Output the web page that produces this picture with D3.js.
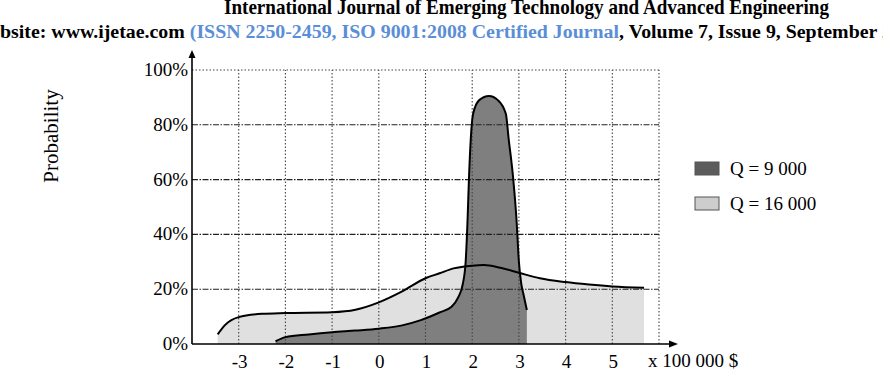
<!DOCTYPE html>
<html>
<head>
<meta charset="utf-8">
<script src="https://cdn.jsdelivr.net/npm/d3@7"></script>
<style>
  body { margin: 0; background: #fff; }
  svg { display: block; font-family: "Liberation Serif", "Times New Roman", serif; }
</style>
</head>
<body>
<div id="chart"></div>
<script>
// x in units of 100 000 $, y in percent
var lightX = [-3.45, -3.3, -3.0, -2.5, -2.0, -1.0, -0.5, 0.0, 0.5, 1.0, 1.3, 1.6, 2.0, 2.25, 2.6, 3.0, 3.45, 4.0, 4.5, 5.0, 5.68];
var lightY = [3.5, 6.8, 9.8, 11.0, 11.3, 11.6, 12.5, 15.2, 19.2, 24.0, 25.8, 27.6, 28.6, 28.8, 27.8, 26.0, 24.0, 22.6, 21.7, 21.0, 20.5];

var darkX = [-2.21, -2.0, -1.5, -1.0, -0.5, 0.0, 0.5, 0.9, 1.3, 1.55, 1.7, 1.8, 1.86, 1.9, 1.93, 1.97, 2.02, 2.15, 2.36, 2.55, 2.72, 2.78, 2.88, 2.95, 3.0, 3.05, 3.1, 3.17];
var darkY = [1.0, 2.5, 3.5, 4.3, 4.9, 5.6, 6.8, 8.7, 11.5, 13.5, 17, 22, 30, 45, 60, 75, 84, 89, 90.5, 89, 84, 75, 60, 45, 30, 22, 18, 12.4];

var xTicks = [-3, -2, -1, 0, 1, 2, 3, 4, 5];
var yTicks = [0, 20, 40, 60, 80, 100];
var legendLabels = ["Q = 9 000", "Q = 16 000"];
var legendColors = ["#5c5c5c", "#cdcdcd"];

var W = 883, H = 384;
var svg = d3.select("#chart").append("svg")
    .attr("width", W)
    .attr("height", H);

var x = d3.scaleLinear().domain([-4, 6]).range([192, 659]);
var y = d3.scaleLinear().domain([0, 100]).range([344, 70]);

var light = lightX.map(function(d, i){ return [d, lightY[i]]; });
var dark = darkX.map(function(d, i){ return [d, darkY[i]]; });

// header lines (cropped page header)
svg.append("text")
    .attr("x", 224).attr("y", 14)
    .attr("font-size", 21).attr("font-weight", "bold")
    .attr("textLength", 605).attr("lengthAdjust", "spacingAndGlyphs")
    .text("International Journal of Emerging Technology and Advanced Engineering");

var hdr = svg.append("text")
    .attr("y", 38)
    .attr("font-size", 18).attr("font-weight", "bold");
hdr.append("tspan").text("Website: www.ijetae.com ");
hdr.append("tspan").attr("fill", "#5a8ed6").text("(ISSN 2250-2459, ISO 9001:2008 Certified Journal");
hdr.append("tspan").text(", Volume 7, Issue 9, September 2017)");
// squeeze so that "bsite" starts at 0 and "September" ends near 877
var node = hdr.node();
var txt = node.textContent;
var startIdx = 2, endIdx = txt.indexOf("September") + 9;
var wPart = node.getSubStringLength(startIdx, endIdx - startIdx);
var wAll = node.getComputedTextLength();
var wLead = node.getSubStringLength(0, startIdx);
var s = 877 / wPart;
hdr.attr("x", -wLead * s)
    .attr("textLength", wAll * s)
    .attr("lengthAdjust", "spacingAndGlyphs");

// fills
var area = d3.area()
    .x(function(d){ return x(d[0]); })
    .y0(y(0))
    .y1(function(d){ return y(d[1]); })
    .curve(d3.curveMonotoneX);
var line = d3.line()
    .x(function(d){ return x(d[0]); })
    .y(function(d){ return y(d[1]); })
    .curve(d3.curveMonotoneX);

svg.append("path").attr("d", area(light)).attr("fill", "#e0e0e0");
svg.append("path").attr("d", area(dark)).attr("fill", "#7f7f7f");

// grid
var grid = svg.append("g");
grid.selectAll(".vg").data(xTicks.concat([6])).enter().append("line")
    .attr("x1", function(d){ return x(d); }).attr("x2", function(d){ return x(d); })
    .attr("y1", y(0)).attr("y2", y(100))
    .attr("stroke", "#444").attr("stroke-width", 1.1)
    .attr("stroke-dasharray", "1.5,2");
grid.selectAll(".hg").data([20, 40, 60, 80]).enter().append("line")
    .attr("x1", x(-4)).attr("x2", x(6))
    .attr("y1", function(d){ return y(d); }).attr("y2", function(d){ return y(d); })
    .attr("stroke", "#222").attr("stroke-width", 1.1)
    .attr("stroke-dasharray", "6,1.5,1.5,1.5");
grid.append("line")
    .attr("x1", x(-4)).attr("x2", x(6))
    .attr("y1", y(100)).attr("y2", y(100))
    .attr("stroke", "#444").attr("stroke-width", 1.1)
    .attr("stroke-dasharray", "1.5,2");

// curves
svg.append("path").attr("d", line(dark)).attr("fill", "none")
    .attr("stroke", "#000").attr("stroke-width", 2);
svg.append("path").attr("d", line(light)).attr("fill", "none")
    .attr("stroke", "#000").attr("stroke-width", 2);

// axes with arrows
svg.append("line")
    .attr("x1", x(-4)).attr("x2", x(-4))
    .attr("y1", y(0)).attr("y2", 56)
    .attr("stroke", "#000").attr("stroke-width", 1.6);
svg.append("path")
    .attr("d", "M" + x(-4) + ",50 L" + (x(-4) - 3.5) + ",58 L" + (x(-4) + 3.5) + ",58 Z")
    .attr("fill", "#000");
svg.append("line")
    .attr("x1", x(-4)).attr("x2", 671)
    .attr("y1", y(0)).attr("y2", y(0))
    .attr("stroke", "#000").attr("stroke-width", 1.6);
svg.append("path")
    .attr("d", "M678," + y(0) + " L669," + (y(0) - 3.5) + " L669," + (y(0) + 3.5) + " Z")
    .attr("fill", "#000");

// tick labels
svg.selectAll(".xl").data(xTicks).enter().append("text")
    .attr("x", function(d){ return x(d) + 1; })
    .attr("y", 368)
    .attr("text-anchor", "middle")
    .attr("font-size", 19)
    .text(function(d){ return d; });
svg.selectAll(".yl").data(yTicks).enter().append("text")
    .attr("x", 188)
    .attr("y", function(d){ return y(d) + 6; })
    .attr("text-anchor", "end")
    .attr("font-size", 19)
    .text(function(d){ return d + "%"; });

svg.append("text")
    .attr("x", 648).attr("y", 367)
    .attr("font-size", 19)
    .text("x 100 000 $");

svg.append("text")
    .attr("transform", "translate(58,136) rotate(-90)")
    .attr("text-anchor", "middle")
    .attr("font-size", 21)
    .text("Probability");

// legend
var leg = svg.append("g");
legendLabels.forEach(function(lab, i){
    var ly = 162 + i * 35;
    leg.append("rect")
        .attr("x", 695).attr("y", ly)
        .attr("width", 24).attr("height", 13)
        .attr("fill", legendColors[i])
        .attr("stroke", "#555").attr("stroke-width", 1);
    leg.append("text")
        .attr("x", 730).attr("y", ly + 13)
        .attr("font-size", 19)
        .text(lab);
});
</script>
</body>
</html>
